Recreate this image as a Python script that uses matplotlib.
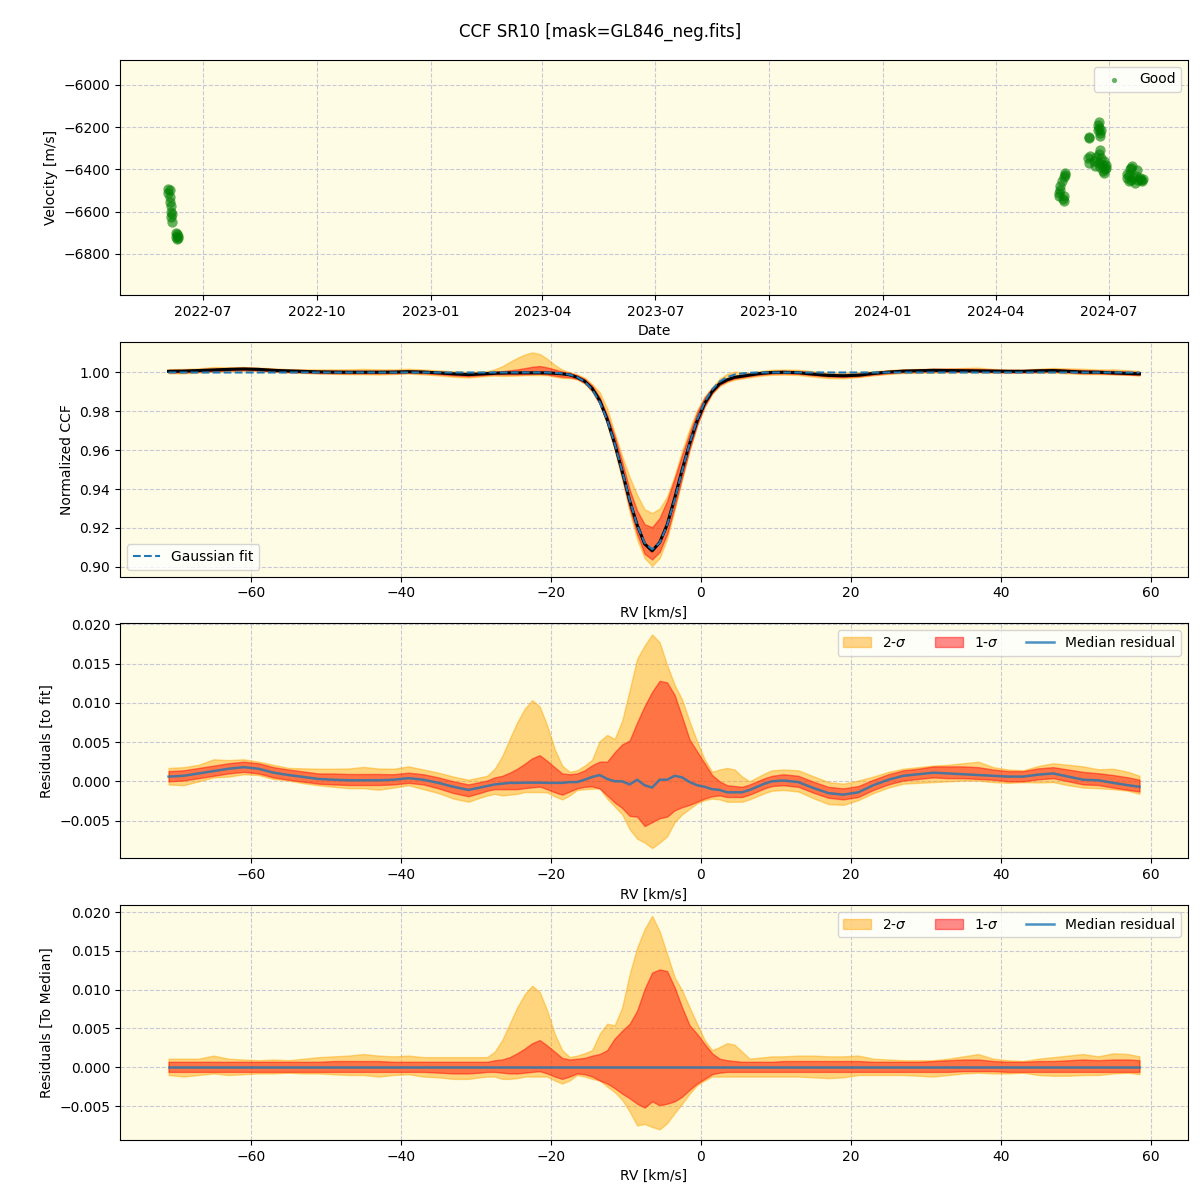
import numpy as np
import pandas as pd
import matplotlib
matplotlib.use("Agg")
import matplotlib.pyplot as plt
import matplotlib.dates as mdates

# ---- top panel: RV time series ("Good" points) ----
good_dates = [
    "2022-06-03", "2022-06-03", "2022-06-04", "2022-06-04", "2022-06-04",
    "2022-06-05", "2022-06-05", "2022-06-05", "2022-06-06", "2022-06-06",
    "2022-06-09", "2022-06-09", "2022-06-10", "2022-06-10", "2022-06-11", "2022-06-11",
    "2024-05-22", "2024-05-22", "2024-05-23", "2024-05-23", "2024-05-24",
    "2024-05-25", "2024-05-26", "2024-05-26", "2024-05-26", "2024-05-27", "2024-05-27",
    "2024-06-15", "2024-06-15", "2024-06-14", "2024-06-15", "2024-06-16",
    "2024-06-19", "2024-06-20", "2024-06-21", "2024-06-22", "2024-06-22",
    "2024-06-23", "2024-06-23", "2024-06-23", "2024-06-23", "2024-06-24",
    "2024-06-24", "2024-06-24", "2024-06-24", "2024-06-25", "2024-06-25",
    "2024-06-26", "2024-06-26", "2024-06-27", "2024-06-27", "2024-06-28",
    "2024-06-29", "2024-06-29",
    "2024-07-16", "2024-07-16", "2024-07-17", "2024-07-17", "2024-07-18",
    "2024-07-19", "2024-07-19", "2024-07-20", "2024-07-21", "2024-07-22",
    "2024-07-23", "2024-07-24", "2024-07-25", "2024-07-26", "2024-07-27",
    "2024-07-28", "2024-07-29",
]
good_vel = [
    -6495, -6510, -6500, -6530, -6555,
    -6575, -6600, -6625, -6610, -6650,
    -6700, -6720, -6705, -6730, -6715, -6725,
    -6510, -6525, -6480, -6500, -6455,
    -6540, -6435, -6528, -6552, -6418, -6425,
    -6252, -6245, -6345, -6370, -6335,
    -6360, -6385, -6340, -6190, -6215,
    -6175, -6205, -6325, -6370, -6230,
    -6240, -6310, -6390, -6215, -6345,
    -6410, -6380, -6418, -6360, -6400,
    -6395, -6380,
    -6442, -6420, -6426, -6455, -6400,
    -6395, -6450, -6385, -6442, -6466,
    -6430, -6402, -6450, -6440, -6450,
    -6455, -6445,
]

# ---- CCF profile data (RV grid in km/s) ----
rv = [
    -71, -69, -67, -65, -63, -61, -59, -57, -55, -53, -51, -49, -47, -45, -43, -41,
    -39, -37, -35, -33, -31,
    -29.5, -28.5, -27.5, -26.5, -25.5, -24.5, -23.5, -22.5, -21.5, -20.5,
    -19.5, -18.5, -17.5, -16.5, -15.5, -14.5, -13.5, -12.5, -11.5, -10.5,
    -9.5, -8.5, -7.5, -6.5, -5.5, -4.5, -3.5, -2.5, -1.5, -0.5,
    0.5, 1.5, 2.5, 3.5, 4.5, 5.5, 6.5, 7.5, 8.5, 9.5,
    11, 13, 15, 17, 19, 21, 23, 25, 27, 29, 31, 33, 35, 37, 39, 41, 43, 45,
    47, 49, 51, 53, 55, 57, 58.5,
]

gauss_fit = [
    1.0, 1.0, 1.0, 1.0, 1.0, 1.0, 1.0, 1.0, 1.0, 1.0, 1.0, 1.0, 1.0, 1.0, 1.0, 1.0,
    1.0, 1.0, 1.0, 1.0, 1.0,
    1.0, 1.0, 1.0, 1.0, 1.0, 1.0, 1.0, 1.0, 1.0, 1.0,
    0.9998, 0.9995, 0.9989, 0.9976, 0.9953, 0.9912, 0.9848, 0.9756, 0.9635, 0.9493,
    0.9345, 0.9214, 0.9123, 0.9090, 0.9123, 0.9214, 0.9345, 0.9493, 0.9635, 0.9756,
    0.9848, 0.9912, 0.9953, 0.9976, 0.9989, 0.9995, 0.9998, 1.0, 1.0, 1.0,
    1.0, 1.0, 1.0, 1.0, 1.0, 1.0, 1.0, 1.0, 1.0, 1.0, 1.0, 1.0, 1.0, 1.0, 1.0,
    1.0, 1.0, 1.0, 1.0, 1.0, 1.0, 1.0, 1.0, 1.0, 1.0,
]

# median residual to the gaussian fit
med_res = [
    0.0006, 0.0007, 0.0010, 0.0013, 0.0016, 0.0018, 0.0016, 0.0011, 0.0008, 0.00055,
    0.0003, 0.0002, 0.00013, 0.00013, 0.00013, 0.0002,
    0.0004, 0.0002, -0.0002, -0.0007, -0.0011,
    -0.0008, -0.0006, -0.0004, -0.0003, -0.0002, -0.0002, -0.00017, -0.00017, -0.00017, -0.0002,
    -0.0002, -0.0002, -0.0001, -0.0001, 0.0002, 0.00055, 0.0008, 0.0003, 0.0, 0.0,
    -0.0004, 0.0002, -0.0005, -0.0008, 0.0002, 0.0002, 0.0007, 0.0005, -0.0001, -0.0005,
    -0.0007, -0.0010, -0.0011, -0.0014, -0.0014, -0.0014, -0.0011, -0.0007, -0.0003, 0.0,
    0.0001, -0.0001, -0.00085, -0.0015, -0.0017, -0.0014, -0.0005, 0.0002, 0.0007, 0.0009,
    0.0011, 0.0010, 0.0009, 0.0008, 0.0007, 0.0006, 0.0006, 0.00085,
    0.0010, 0.0006, 0.0002, 0.00013, -0.0002, -0.0005, -0.0007,
]

# percentile bands relative to the median profile
s2_hi = [
    0.0011, 0.0011, 0.0011, 0.0015, 0.0011, 0.0010, 0.0009, 0.0010, 0.0009, 0.0011,
    0.0013, 0.0014, 0.0015, 0.0017, 0.0015, 0.0014,
    0.0015, 0.0013, 0.0013, 0.0013, 0.0013,
    0.0013, 0.0013, 0.0020, 0.0035, 0.0056, 0.0077, 0.0094, 0.0105, 0.0097, 0.0073,
    0.0043, 0.0022, 0.0013, 0.0015, 0.0018, 0.0022, 0.0043, 0.0056, 0.0054, 0.0077,
    0.0120, 0.0154, 0.0178, 0.0195, 0.0175, 0.0146, 0.0116, 0.0099, 0.0077, 0.0056,
    0.0035, 0.0022, 0.0026, 0.0031, 0.0029, 0.0020, 0.0011, 0.0012, 0.0013, 0.0014,
    0.0014, 0.0015, 0.0015, 0.0014, 0.0014, 0.0015, 0.0011, 0.0010, 0.0009, 0.0009,
    0.0009, 0.0011, 0.0014, 0.0017, 0.0011, 0.0009, 0.0008, 0.0011,
    0.0013, 0.0015, 0.0017, 0.0014, 0.0018, 0.0017, 0.0014,
]
s1_hi = [
    0.0007, 0.0007, 0.0007, 0.0007, 0.0007, 0.0007, 0.0007, 0.0007, 0.0007, 0.0007,
    0.0007, 0.0008, 0.0008, 0.0008, 0.0008, 0.0007,
    0.0007, 0.0007, 0.0007, 0.0007, 0.0007,
    0.0007, 0.0007, 0.0009, 0.0010, 0.0013, 0.0018, 0.0024, 0.0031, 0.0035, 0.0028,
    0.0020, 0.0012, 0.0010, 0.0011, 0.0012, 0.0015, 0.0017, 0.0022, 0.0037, 0.0047,
    0.0056, 0.0073, 0.0101, 0.0122, 0.0126, 0.0124, 0.0103, 0.0077, 0.0054, 0.0043,
    0.0030, 0.0018, 0.0011, 0.0009, 0.0008, 0.0007, 0.0007, 0.0007, 0.0007, 0.0007,
    0.0008, 0.0008, 0.0008, 0.0008, 0.0008, 0.0008, 0.0007, 0.0007, 0.0007, 0.0007,
    0.0008, 0.0009, 0.0010, 0.0010, 0.0008, 0.0007, 0.0007, 0.0008,
    0.0008, 0.0009, 0.0010, 0.0009, 0.0010, 0.0010, 0.0009,
]
s1_lo = [
    -0.0006, -0.0006, -0.0006, -0.0006, -0.0006, -0.0006, -0.0006, -0.0006, -0.0006, -0.0006,
    -0.0006, -0.0006, -0.0006, -0.0006, -0.0006, -0.0006,
    -0.0006, -0.0006, -0.0007, -0.0008, -0.0008,
    -0.0007, -0.0006, -0.0006, -0.0007, -0.0008, -0.0008, -0.0007, -0.0006, -0.0005, -0.0008,
    -0.0012, -0.0015, -0.0012, -0.0008, -0.0009, -0.0012, -0.0017, -0.0021, -0.0027, -0.0034,
    -0.0040, -0.0047, -0.0052, -0.0044, -0.0049, -0.0047, -0.0044, -0.0038, -0.0029, -0.0021,
    -0.0015, -0.0009, -0.0007, -0.0006, -0.0006, -0.0006, -0.0006, -0.0006, -0.0006, -0.0006,
    -0.0006, -0.0006, -0.0006, -0.0006, -0.0006, -0.0006, -0.0006, -0.0006, -0.0006, -0.0006,
    -0.0006, -0.0006, -0.0005, -0.0005, -0.0005, -0.0006, -0.0006, -0.0006,
    -0.0006, -0.0006, -0.0006, -0.0006, -0.0006, -0.0006, -0.0006,
]
s2_lo = [
    -0.0010, -0.0012, -0.0010, -0.0008, -0.0010, -0.0009, -0.0008, -0.0008, -0.0007, -0.0008,
    -0.0008, -0.0009, -0.0010, -0.0010, -0.0012, -0.0010,
    -0.0009, -0.0012, -0.0013, -0.0015, -0.0015,
    -0.0013, -0.0012, -0.0012, -0.0015, -0.0015, -0.0014, -0.0012, -0.0012, -0.0012, -0.0012,
    -0.0017, -0.0021, -0.0017, -0.0010, -0.0012, -0.0015, -0.0017, -0.0025, -0.0032, -0.0042,
    -0.0057, -0.0075, -0.0073, -0.0077, -0.0080, -0.0072, -0.0059, -0.0047, -0.0034, -0.0023,
    -0.0017, -0.0012, -0.0012, -0.0012, -0.0012, -0.0012, -0.0012, -0.0012, -0.0012, -0.0012,
    -0.0012, -0.0012, -0.0013, -0.0014, -0.0013, -0.0010, -0.0010, -0.0010, -0.0010, -0.0011,
    -0.0012, -0.0010, -0.0008, -0.0007, -0.0008, -0.0008, -0.0007, -0.0010,
    -0.0011, -0.0011, -0.0010, -0.0010, -0.0008, -0.0007, -0.0009,
]

BG = "#fefce4"
GRID = dict(linestyle="--", color="#c8c8d6", linewidth=0.8)
C_2S = "orange"
C_1S = "red"

rv_a = np.array(rv)
fit_a = np.array(gauss_fit)
med_a = np.array(med_res)
s2h, s1h = np.array(s2_hi), np.array(s1_hi)
s1l, s2l = np.array(s1_lo), np.array(s2_lo)

fig, axes = plt.subplots(4, 1, figsize=(12, 12), dpi=100)
fig.subplots_adjust(left=0.1, right=0.99, top=0.95, bottom=0.05, hspace=0.2)
fig.suptitle("CCF SR10 [mask=GL846_neg.fits]", fontsize=12, y=0.981)

for ax in axes:
    ax.set_facecolor(BG)
    ax.grid(True, **GRID)
    ax.set_axisbelow(True)

# panel 1
ax = axes[0]
ax.scatter(pd.to_datetime(good_dates), good_vel, s=55, color="green", alpha=0.6,
           linewidths=0, label="Good")
ax.set_xlim(pd.Timestamp("2022-04-25"), pd.Timestamp("2024-09-03"))
ax.set_ylim(-6994, -5882)
ax.xaxis.set_major_locator(mdates.MonthLocator(bymonth=[1, 4, 7, 10]))
ax.xaxis.set_major_formatter(mdates.DateFormatter("%Y-%m"))
ax.set_xlabel("Date")
ax.set_ylabel("Velocity [m/s]")
ax.legend(loc="upper right", markerscale=0.5)

# panel 2
ax = axes[1]
base = fit_a + med_a
ax.fill_between(rv_a, base + s2l, base + s2h, color=C_2S, alpha=0.45)
ax.fill_between(rv_a, base + s1l, base + s1h, color=C_1S, alpha=0.45)
ax.plot(rv_a, base, color="black", lw=2.2)
ax.plot(rv_a, fit_a, "--", color="C0", lw=1.5, label="Gaussian fit")
ax.set_xlabel("RV [km/s]")
ax.set_ylabel("Normalized CCF")
ax.legend(loc="lower left")

# panel 3
ax = axes[2]
ax.fill_between(rv_a, med_a + s2l, med_a + s2h, color=C_2S, alpha=0.45, label=r"2-$\sigma$")
ax.fill_between(rv_a, med_a + s1l, med_a + s1h, color=C_1S, alpha=0.45, label=r"1-$\sigma$")
ax.plot(rv_a, med_a, color="C0", lw=1.8, alpha=0.8, label="Median residual")
ax.set_ylim(-0.0098, 0.0201)
ax.set_xlabel("RV [km/s]")
ax.set_ylabel("Residuals [to fit]")
ax.legend(loc="upper right", ncol=3)

# panel 4
ax = axes[3]
ax.fill_between(rv_a, s2l, s2h, color=C_2S, alpha=0.45, label=r"2-$\sigma$")
ax.fill_between(rv_a, s1l, s1h, color=C_1S, alpha=0.45, label=r"1-$\sigma$")
ax.plot(rv_a, np.zeros_like(rv_a), color="C0", lw=1.8, alpha=0.8, label="Median residual")
ax.set_xlabel("RV [km/s]")
ax.set_ylabel("Residuals [To Median]")
ax.legend(loc="upper right", ncol=3)

fig.savefig("out.png", dpi=100)
